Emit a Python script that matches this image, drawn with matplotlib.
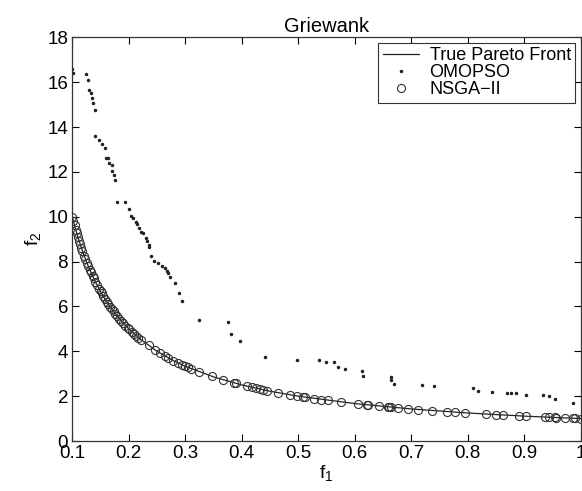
import matplotlib
matplotlib.use('Agg')
import matplotlib.pyplot as plt

plt.rcParams['font.family'] = ['Liberation Sans', 'DejaVu Sans']
plt.rcParams['font.size'] = 13

# True Pareto front
front_f1 = [0.10, 0.105, 0.11, 0.115, 0.12, 0.125, 0.13, 0.14, 0.15, 0.16, 0.17, 0.18,
            0.20, 0.22, 0.25, 0.28, 0.30, 0.35, 0.40, 0.45, 0.50, 0.60, 0.70,
            0.80, 0.90, 1.00]
front_f2 = [10.00, 9.52, 9.09, 8.70, 8.33, 8.00, 7.69, 7.14, 6.67, 6.25, 5.88, 5.56,
            5.00, 4.55, 4.00, 3.57, 3.33, 2.86, 2.50, 2.22, 2.00, 1.67, 1.43,
            1.25, 1.11, 1.00]

# OMOPSO points
omopso_f1 = [0.100, 0.102, 0.124, 0.128, 0.130, 0.134, 0.135, 0.137, 0.140, 0.141,
             0.147, 0.153, 0.158, 0.160, 0.163, 0.165, 0.170, 0.171, 0.174, 0.176,
             0.179, 0.194, 0.200, 0.204, 0.208, 0.212, 0.215, 0.218, 0.221, 0.225,
             0.230, 0.233, 0.236, 0.235, 0.239, 0.245, 0.251, 0.259, 0.265, 0.268,
             0.270, 0.273, 0.281, 0.289, 0.294, 0.325, 0.375, 0.381, 0.397, 0.441,
             0.498, 0.537, 0.549, 0.563, 0.571, 0.583, 0.612, 0.615, 0.664, 0.665,
             0.669, 0.719, 0.740, 0.809, 0.818, 0.843, 0.869, 0.876, 0.885, 0.903,
             0.933, 0.944, 0.954, 0.987]
omopso_f2 = [16.60, 16.40, 16.36, 16.10, 15.65, 15.50, 15.30, 15.08, 14.76, 13.60,
             13.40, 13.24, 13.05, 12.63, 12.60, 12.40, 12.30, 12.04, 11.86, 11.64,
             10.66, 10.66, 10.33, 10.03, 9.93, 9.78, 9.67, 9.48, 9.30, 9.26,
             9.04, 8.92, 8.64, 8.74, 8.25, 8.04, 7.95, 7.80, 7.73, 7.60,
             7.48, 7.33, 7.06, 6.58, 6.24, 5.39, 5.30, 4.77, 4.47, 3.73,
             3.61, 3.61, 3.54, 3.52, 3.31, 3.20, 3.12, 2.91, 2.87, 2.72,
             2.54, 2.50, 2.45, 2.38, 2.24, 2.17, 2.13, 2.13, 2.13, 2.06,
             2.05, 2.02, 1.86, 1.69]

# NSGA-II points
nsga_f1 = [0.100, 0.102, 0.104, 0.106, 0.108, 0.110, 0.112, 0.114, 0.116, 0.118,
           0.121, 0.123, 0.126, 0.128, 0.131, 0.133, 0.136, 0.138, 0.141, 0.144,
           0.147, 0.150, 0.152, 0.155, 0.158, 0.161, 0.164, 0.167, 0.170, 0.173,
           0.176, 0.180, 0.183, 0.187, 0.190, 0.194, 0.198, 0.201, 0.205, 0.209,
           0.213, 0.217, 0.221, 0.235, 0.246, 0.255, 0.264, 0.270, 0.279, 0.288,
           0.294, 0.300, 0.305, 0.311, 0.325, 0.347, 0.366, 0.386, 0.389, 0.409,
           0.418, 0.426, 0.432, 0.438, 0.444, 0.465, 0.485, 0.497, 0.509, 0.512,
           0.528, 0.541, 0.553, 0.575, 0.606, 0.621, 0.624, 0.643, 0.658, 0.661,
           0.665, 0.677, 0.695, 0.712, 0.736, 0.764, 0.777, 0.795, 0.833, 0.850,
           0.863, 0.891, 0.904, 0.937, 0.943, 0.954, 0.957, 0.972, 0.986, 0.990,
           1.000]
nsga_f2 = [10.00, 9.80, 9.62, 9.43, 9.26, 9.09, 8.93, 8.77, 8.62, 8.47,
           8.26, 8.13, 7.94, 7.81, 7.63, 7.52, 7.35, 7.25, 7.09, 6.94,
           6.80, 6.67, 6.58, 6.45, 6.33, 6.21, 6.10, 5.99, 5.88, 5.78,
           5.68, 5.56, 5.46, 5.35, 5.26, 5.15, 5.05, 4.98, 4.88, 4.78,
           4.69, 4.61, 4.52, 4.26, 4.07, 3.92, 3.79, 3.70, 3.58, 3.47,
           3.40, 3.33, 3.28, 3.22, 3.08, 2.88, 2.73, 2.59, 2.57, 2.44,
           2.39, 2.35, 2.31, 2.28, 2.25, 2.15, 2.06, 2.01, 1.96, 1.95,
           1.89, 1.85, 1.81, 1.74, 1.65, 1.61, 1.60, 1.56, 1.52, 1.51,
           1.50, 1.48, 1.44, 1.40, 1.36, 1.31, 1.29, 1.26, 1.20, 1.18,
           1.16, 1.12, 1.11, 1.07, 1.06, 1.05, 1.04, 1.03, 1.01, 1.01,
           1.00]

fig = plt.figure(figsize=(5.82, 4.91), dpi=100)
ax = fig.add_axes([0.1242, 0.1018, 0.8736, 0.8222])

ax.plot(front_f1, front_f2, '-', color='#222222', linewidth=0.9, label='True Pareto Front')
ax.plot(omopso_f1, omopso_f2, 'o', color='#222222', markersize=1.5, linestyle='none',
        label='OMOPSO')
ax.plot(nsga_f1, nsga_f2, 'o', markerfacecolor='none', markeredgecolor='#333333',
        markeredgewidth=0.8, markersize=5.8, linestyle='none', label='NSGA\u2212II')

ax.set_xlim(0.1, 1.0)
ax.set_ylim(0, 18)
ax.set_xticks([0.1, 0.2, 0.3, 0.4, 0.5, 0.6, 0.7, 0.8, 0.9, 1.0])
ax.set_xticklabels(['0.1', '0.2', '0.3', '0.4', '0.5', '0.6', '0.7', '0.8', '0.9', '1'])
ax.set_yticks(range(0, 19, 2))
ax.tick_params(direction='in', top=True, right=True, length=5, width=0.8,
               labelsize=13.5, pad=3)
for s in ax.spines.values():
    s.set_linewidth(0.9)
    s.set_color('#333333')

ax.set_title('Griewank', fontsize=14.5, pad=4)
ax.set_xlabel('f$_{\\mathregular{1}}$', fontsize=14, labelpad=1)
ax.set_ylabel('f$_{\\mathregular{2}}$', fontsize=14, labelpad=2)

leg = ax.legend(loc='upper right', fontsize=13, fancybox=False, framealpha=1,
                edgecolor='#333333', borderaxespad=0.3, handlelength=2.0,
                labelspacing=0.0, borderpad=0.25, handletextpad=0.6, markerscale=1.0)
leg.get_frame().set_linewidth(0.8)

fig.savefig('out.png', dpi=100)
